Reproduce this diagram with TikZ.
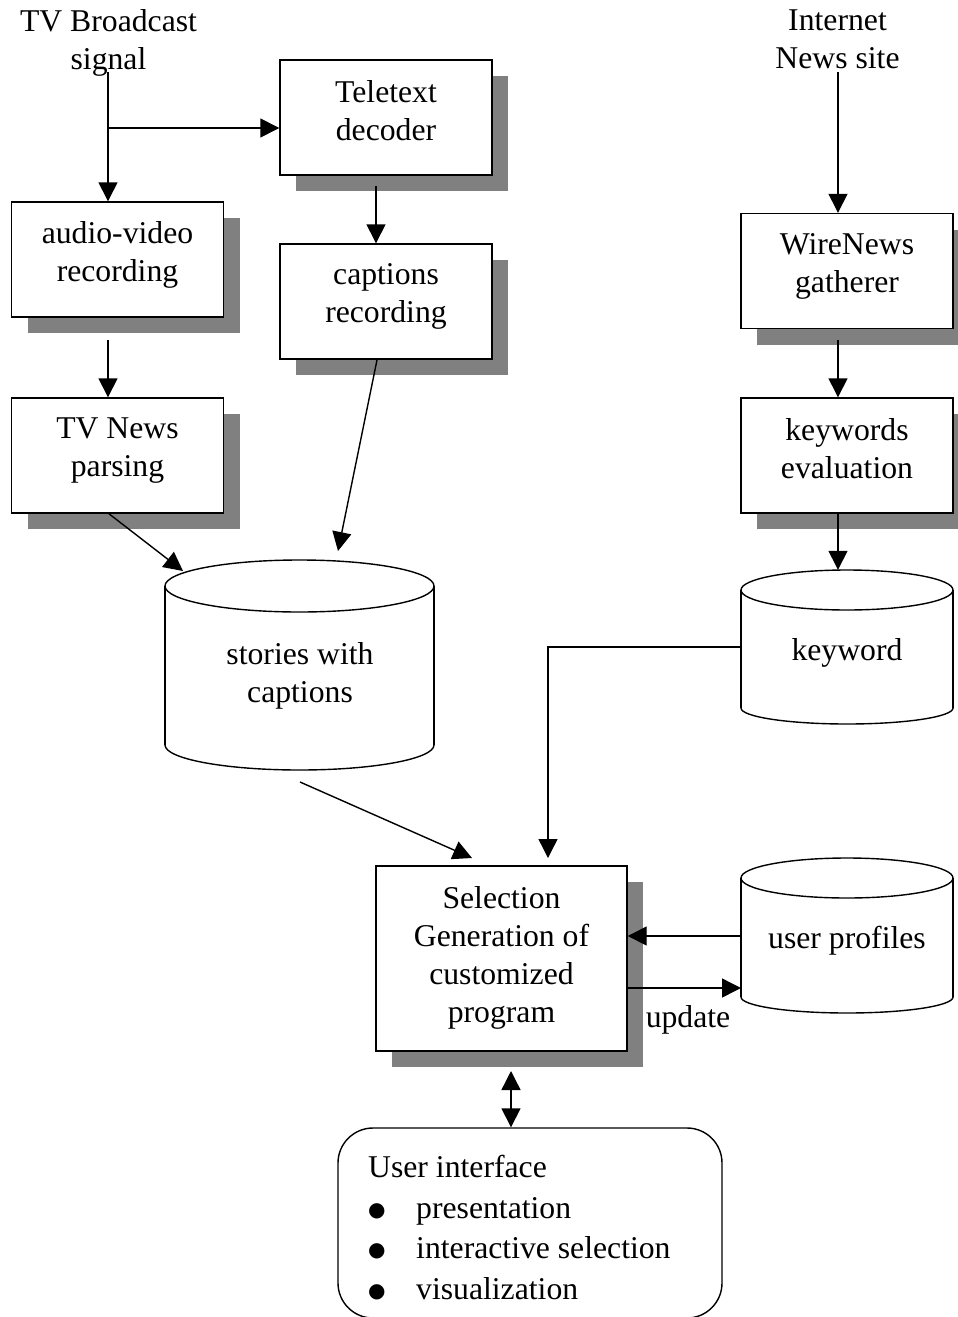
\documentclass[tikz,border=0pt]{standalone}
\usepackage{fontspec}
\setmainfont{Liberation Serif}
\newfontfamily\symfont{DejaVu Sans}
\usetikzlibrary{arrows.meta,shadows,calc}
\newcommand{\fsz}{\fontsize{31.7}{38}\selectfont}
\newcommand{\uisz}{\fontsize{31.7}{40.5}\selectfont}
\newcommand{\bigbul}{\makebox[48pt][l]{\raisebox{2pt}{\symfont\fontsize{20}{20}\selectfont ●}}}
\begin{document}
\begin{tikzpicture}[x=1pt,y=-1pt,
  shbox/.style={draw, line width=1.4pt, fill=white, inner sep=0pt,
    minimum width=212pt, minimum height=115pt,
    drop shadow={shadow xshift=16pt, shadow yshift=-16pt, fill=black!50, opacity=1, draw=none}},
  txt/.style={font=\fsz, align=center, inner sep=0pt, anchor=north, execute at begin node=\strut},
  arr/.style={line width=1.4pt, -{Triangle[length=19pt,width=19pt]}},
  darr/.style={line width=1.4pt, {Triangle[length=19pt,width=19pt]}-{Triangle[length=19pt,width=19pt]}},
  cyl/.style={line width=1.4pt},
  frame/.style={inner sep=0pt}]
\useasboundingbox (0,0) rectangle (958,1317);

% ---------- boxes ----------
\node[shbox] (tele) at (386,117.5) {};
\node[shbox] (av) at (117.5,259.5) {};
\node[shbox] (cap) at (386,301.5) {};
\node[shbox] (tvn) at (117.5,455.5) {};
\node[shbox] (wire) at (847,271) {};
\node[shbox] (kwe) at (847,455.5) {};
\node[shbox, minimum width=251pt, minimum height=185pt] (sel) at (501.5,958.5) {};

% ---------- cylinders ----------
% stories with captions
\fill[white] (299.5,745) ellipse[x radius=134.5pt, y radius=25pt];
\draw[cyl] (299.5,745) ellipse[x radius=134.5pt, y radius=25pt];
\fill[white] (165,586) rectangle (434,745);
\draw[cyl] (165,586) -- (165,745) (434,586) -- (434,745);
\draw[cyl, fill=white] (299.5,586) ellipse[x radius=134.5pt, y radius=26pt];
\node[frame, minimum width=269pt, minimum height=210pt] (stories) at (299.5,665) {};
% keyword
\fill[white] (847,708) ellipse[x radius=106pt, y radius=16pt];
\draw[cyl] (847,708) ellipse[x radius=106pt, y radius=16pt];
\fill[white] (741,590) rectangle (953,708);
\draw[cyl] (741,590) -- (741,708) (953,590) -- (953,708);
\draw[cyl, fill=white] (847,590) ellipse[x radius=106pt, y radius=20pt];
\node[frame, minimum width=212pt, minimum height=154pt] (kwc) at (847,647) {};
% user profiles
\fill[white] (847,997) ellipse[x radius=106pt, y radius=16pt];
\draw[cyl] (847,997) ellipse[x radius=106pt, y radius=16pt];
\fill[white] (741,878) rectangle (953,997);
\draw[cyl] (741,878) -- (741,997) (953,878) -- (953,997);
\draw[cyl, fill=white] (847,878) ellipse[x radius=106pt, y radius=20pt];
\node[frame, minimum width=212pt, minimum height=155pt] (upc) at (847,935.5) {};

% ---------- user interface ----------
\node[draw, line width=1.4pt, rounded corners=35pt, inner sep=0pt,
      minimum width=384pt, minimum height=190pt] (ui) at (530,1223) {};

% ---------- texts ----------
\node[txt] (tvbT) at (108.5,9) {TV Broadcast\\signal};
\node[txt] (inetT) at (837.5,10) {Internet\\News site};
\node[txt] (teleT) at (386,80) {Teletext\\decoder};
\node[txt] (avT) at (117.5,221) {audio-video\\recording};
\node[txt] (capT) at (386,263) {captions\\recording};
\node[txt] (tvnT) at (117.5,418) {TV News\\parsing};
\node[txt] (wireT) at (847,233) {WireNews\\gatherer};
\node[txt] (kweT) at (847,418) {keywords\\evaluation};
\node[txt] (storiesT) at (300,642.5) {stories with\\captions};
\node[txt] (kwcT) at (847,634) {keyword};
\node[txt] (upcT) at (847,922) {user profiles};
\node[txt] (selT) at (501.5,886.5) {Selection\\Generation of\\customized\\program};
\node[txt] (updT) at (688,1001) {update};
\node[font=\uisz, align=left, anchor=north west, inner sep=0pt, execute at begin node=\strut]
  (uiT) at (368,1155) {User interface\\
  \bigbul presentation\\
  \bigbul interactive selection\\
  \bigbul visualization};

% ---------- connector end points ----------
\coordinate (sigS) at (108,72);
\coordinate (sigJ) at (108,128);
\coordinate (teleS) at (376,186);
\coordinate (avS) at (108,340);
\coordinate (tvnS) at (108,513);
\coordinate (storiesIn1) at (183,571);
\coordinate (capS) at (377,360);
\coordinate (storiesIn2) at (338,551);
\coordinate (storiesS) at (300,782);
\coordinate (selIn1) at (472,858);
\coordinate (inetS) at (838,72);
\coordinate (wireS) at (838,340);
\coordinate (kweS) at (838,513);
\coordinate (kwcW) at (741,647);
\coordinate (selIn2) at (548,858);
\coordinate (upcIn) at (741,936);
\coordinate (upcOut) at (741,988);
\coordinate (selUI1) at (511,1071);

% ---------- connectors ----------
\draw[arr] (sigS) -- (sigS |- av.north);
\draw[arr] (sigJ) -- (sigJ -| tele.west);
\draw[arr] (teleS) -- (teleS |- cap.north);
\draw[arr] (avS) -- (avS |- tvn.north);
\draw[arr] (tvnS) -- (storiesIn1);
\draw[arr] (capS) -- (storiesIn2);
\draw[arr] (storiesS) -- (selIn1);
\draw[arr] (inetS) -- (inetS |- wire.north);
\draw[arr] (wireS) -- (wireS |- kwe.north);
\draw[arr] (kweS) -- (kweS |- kwc.north);
\draw[arr] (kwcW) -| (selIn2);
\draw[arr] (upcIn) -- (upcIn -| sel.east);
\draw[arr] (sel.east |- upcOut) -- (upcOut);
\draw[darr] (selUI1) -- (selUI1 |- ui.north);
\end{tikzpicture}
\end{document}
